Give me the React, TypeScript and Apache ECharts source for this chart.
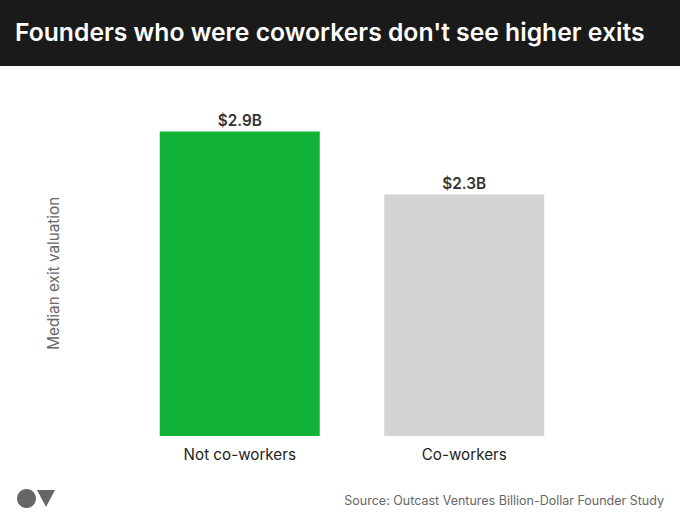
import React, { useEffect, useRef } from "react";
import * as echarts from "echarts";

const titleText = "Founders who were coworkers don't see higher exits";
const sourceText = "Source: Outcast Ventures Billion-Dollar Founder Study";
const yAxisName = "Median exit valuation";
const categories = ["Not co-workers", "Co-workers"];
const values = [2.9, 2.3];
const barColors = ["#12b238", "#d4d4d4"];
const FONT = "Inter";

export default function App() {
  const ref = useRef<HTMLDivElement>(null);
  useEffect(() => {
    const chart = echarts.init(ref.current!, null, { renderer: "svg" });
    chart.setOption({
      animation: false,
      backgroundColor: "#ffffff",
      textStyle: { fontFamily: FONT },
      grid: { left: 127.5, width: 449, top: 131.5, height: 304.5 },
      xAxis: {
        type: "category",
        data: categories,
        axisLine: { show: false },
        axisTick: { show: false },
        axisLabel: { color: "#222222", fontSize: 15.2, fontFamily: FONT, margin: 11 },
      },
      yAxis: {
        type: "value",
        min: 0,
        max: 2.9,
        name: yAxisName,
        nameLocation: "middle",
        nameGap: 67,
        nameTextStyle: {
          color: "#666666",
          fontSize: 15.3,
          fontFamily: FONT,
          padding: [0, 0, 0, 21],
        },
        axisLine: { show: false },
        axisTick: { show: false },
        axisLabel: { show: false },
        splitLine: { show: false },
      },
      series: [
        {
          type: "bar",
          barWidth: 160,
          data: values.map((v, i) => ({ value: v, itemStyle: { color: barColors[i] } })),
          label: {
            show: true,
            position: "top",
            distance: 4,
            formatter: (p: any) => `$${p.value.toFixed(1)}B`,
            color: "#333333",
            fontSize: 15.3,
            fontWeight: 600,
            fontFamily: FONT,
          },
        },
      ],
      graphic: [
        { type: "rect", shape: { x: 0, y: 0, width: 680, height: 66 }, style: { fill: "#1a1a1a" } },
        {
          type: "text",
          x: 15,
          y: 32,
          style: {
            text: titleText,
            fill: "#ffffff",
            font: `600 24.7px ${FONT}`,
            textVerticalAlign: "middle",
          },
        },
        { type: "circle", shape: { cx: 26.5, cy: 498.5, r: 9.5 }, style: { fill: "#666666" } },
        {
          type: "polygon",
          shape: { points: [[37, 490], [55, 490], [46, 507]] },
          style: { fill: "#666666" },
        },
        {
          type: "text",
          x: 664,
          y: 500.5,
          style: {
            text: sourceText,
            fill: "#666666",
            font: `12.5px ${FONT}`,
            textAlign: "right",
            textVerticalAlign: "middle",
          },
        },
      ],
    });
    return () => chart.dispose();
  }, []);
  return (
    <div
      ref={ref}
      style={{ position: "absolute", left: 0, top: 0, width: 680, height: 525 }}
    />
  );
}
